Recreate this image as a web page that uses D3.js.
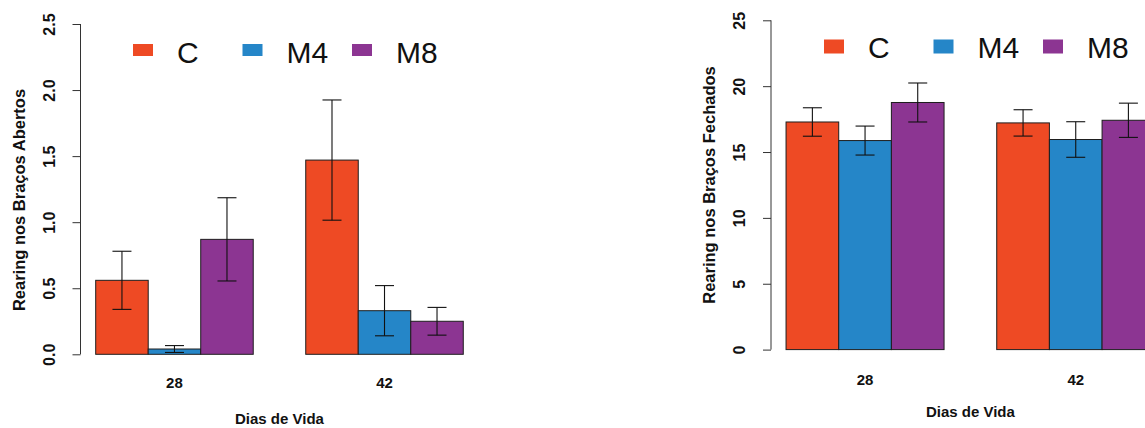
<!DOCTYPE html>
<html>
<head>
<meta charset="utf-8">
<script src="https://cdn.jsdelivr.net/npm/d3@7"></script>
<style>
  html, body { margin: 0; padding: 0; background: #fff; }
  svg { display: block; font-family: "Liberation Sans", Arial, sans-serif; }
</style>
</head>
<body>
<svg id="chart" width="1145" height="428"></svg>
<script>
// Age groups (days of life) and treatment groups
const days = ["28", "42"];
const groups = ["C", "M4", "M8"];
const groupColors = ["#EE4A24", "#2586C8", "#8C3592"];

// Rearing in the open arms: mean and standard error per group, by day
const abertosC = [0.56, 1.47];
const abertosM4 = [0.04, 0.33];
const abertosM8 = [0.87, 0.25];
const abertosSeC = [0.22, 0.455];
const abertosSeM4 = [0.026, 0.19];
const abertosSeM8 = [0.315, 0.105];
const abertosTicks = [0, 0.5, 1.0, 1.5, 2.0, 2.5];

// Rearing in the closed arms: mean and standard error per group, by day
const fechadosC = [17.28, 17.21];
const fechadosM4 = [15.87, 15.95];
const fechadosM8 = [18.76, 17.41];
const fechadosSeC = [1.08, 1.0];
const fechadosSeM4 = [1.1, 1.35];
const fechadosSeM8 = [1.48, 1.3];
const fechadosTicks = [0, 5, 10, 15, 20, 25];

const svg = d3.select("#chart");

function panel(cfg) {
  const g = svg.append("g");

  // bar layout in "bar units": groups of 3 bars with a gap of one bar between days
  const x = d3.scaleLinear().domain([0.72, 8.28]).range([cfg.x0, cfg.x0 + 7.56 * cfg.unit]);
  const y = d3.scaleLinear().domain([0, cfg.ymax]).range([cfg.y0, cfg.y1]);

  const rows = [];
  days.forEach((day, di) => {
    groups.forEach((grp, gi) => {
      rows.push({
        day, grp, gi,
        left: 1 + di * 4 + gi,
        mean: cfg.means[gi][di],
        se: cfg.ses[gi][di]
      });
    });
  });

  // bars
  g.selectAll("rect.bar").data(rows).enter().append("rect")
    .attr("class", "bar")
    .attr("x", d => x(d.left))
    .attr("width", d => x(d.left + 1) - x(d.left))
    .attr("y", d => y(d.mean))
    .attr("height", d => y(0) - y(d.mean))
    .attr("fill", d => groupColors[d.gi])
    .attr("stroke", "#1e1e1e")
    .attr("stroke-width", 1);

  // error bars (mean ± SE)
  const cap = 9.5;
  const eb = g.selectAll("g.err").data(rows).enter().append("g").attr("class", "err")
    .attr("stroke", "#111").attr("stroke-width", 1.1);
  eb.append("line")
    .attr("x1", d => x(d.left + 0.5)).attr("x2", d => x(d.left + 0.5))
    .attr("y1", d => y(d.mean + d.se)).attr("y2", d => y(Math.max(0, d.mean - d.se)));
  eb.append("line")
    .attr("x1", d => x(d.left + 0.5) - cap).attr("x2", d => x(d.left + 0.5) + cap)
    .attr("y1", d => y(d.mean + d.se)).attr("y2", d => y(d.mean + d.se));
  eb.append("line")
    .attr("x1", d => x(d.left + 0.5) - cap).attr("x2", d => x(d.left + 0.5) + cap)
    .attr("y1", d => y(d.mean - d.se)).attr("y2", d => y(d.mean - d.se));

  // y axis
  const axis = d3.axisLeft(y).tickValues(cfg.ticks).tickSize(8).tickFormat(cfg.fmt);
  const ag = g.append("g").attr("transform", `translate(${cfg.axisX},0)`).call(axis);
  ag.select(".domain").attr("stroke", "#333").attr("d", `M0,${y(0)}V${y(cfg.ymax)}`);
  ag.selectAll(".tick line").attr("stroke", "#333");
  ag.selectAll(".tick text")
    .attr("x", null).attr("dy", null)
    .attr("transform", `translate(${cfg.tickLabelX - cfg.axisX},0) rotate(-90)`)
    .attr("text-anchor", "middle")
    .attr("fill", "#111")
    .style("font-size", "16px").style("font-weight", "bold");

  // y axis title
  g.append("text")
    .attr("transform", `translate(${cfg.titleX},${cfg.titleY}) rotate(-90)`)
    .attr("text-anchor", "middle")
    .attr("fill", "#111")
    .style("font-size", "16.5px").style("font-weight", "bold")
    .text(cfg.ytitle);

  // day labels under each group
  g.selectAll("text.day").data(days).enter().append("text")
    .attr("class", "day")
    .attr("x", (d, i) => x(1 + i * 4 + 1.5))
    .attr("y", cfg.dayY)
    .attr("text-anchor", "middle")
    .attr("fill", "#111")
    .style("font-size", "15px").style("font-weight", "bold")
    .text(d => d);

  g.append("text")
    .attr("x", x(4.5))
    .attr("y", cfg.xtitleY)
    .attr("text-anchor", "middle")
    .attr("fill", "#111")
    .style("font-size", "15px").style("font-weight", "bold")
    .text("Dias de Vida");

  // legend
  const lg = g.selectAll("g.leg").data(groups).enter().append("g").attr("class", "leg")
    .attr("transform", (d, i) => `translate(${cfg.legX + i * 109.5},0)`);
  lg.append("rect")
    .attr("x", 0).attr("y", cfg.legSwY)
    .attr("width", 20).attr("height", cfg.legSwH)
    .attr("fill", (d, i) => groupColors[i]);
  lg.append("text")
    .attr("x", 44).attr("y", cfg.legTextY)
    .attr("fill", "#111")
    .style("font-size", "30px")
    .text(d => d);
}

panel({
  means: [abertosC, abertosM4, abertosM8],
  ses: [abertosSeC, abertosSeM4, abertosSeM8],
  ymax: 2.5, ticks: abertosTicks, fmt: d3.format(".1f"),
  x0: 81, unit: 52.51, y0: 354.3, y1: 24,
  axisX: 80.5, tickLabelX: 55, titleX: 25, titleY: 200,
  ytitle: "Rearing nos Braços Abertos",
  dayY: 388, xtitleY: 424,
  legX: 133, legSwY: 44, legSwH: 12, legTextY: 63
});

panel({
  means: [fechadosC, fechadosM4, fechadosM8],
  ses: [fechadosSeC, fechadosSeM4, fechadosSeM8],
  ymax: 25, ticks: fechadosTicks, fmt: d3.format("d"),
  x0: 771.3, unit: 52.67, y0: 349.6, y1: 20.3,
  axisX: 771, tickLabelX: 745, titleX: 715, titleY: 185,
  ytitle: "Rearing nos Braços Fechados",
  dayY: 385, xtitleY: 417,
  legX: 824, legSwY: 39.5, legSwH: 14, legTextY: 58
});
</script>
</body>
</html>
